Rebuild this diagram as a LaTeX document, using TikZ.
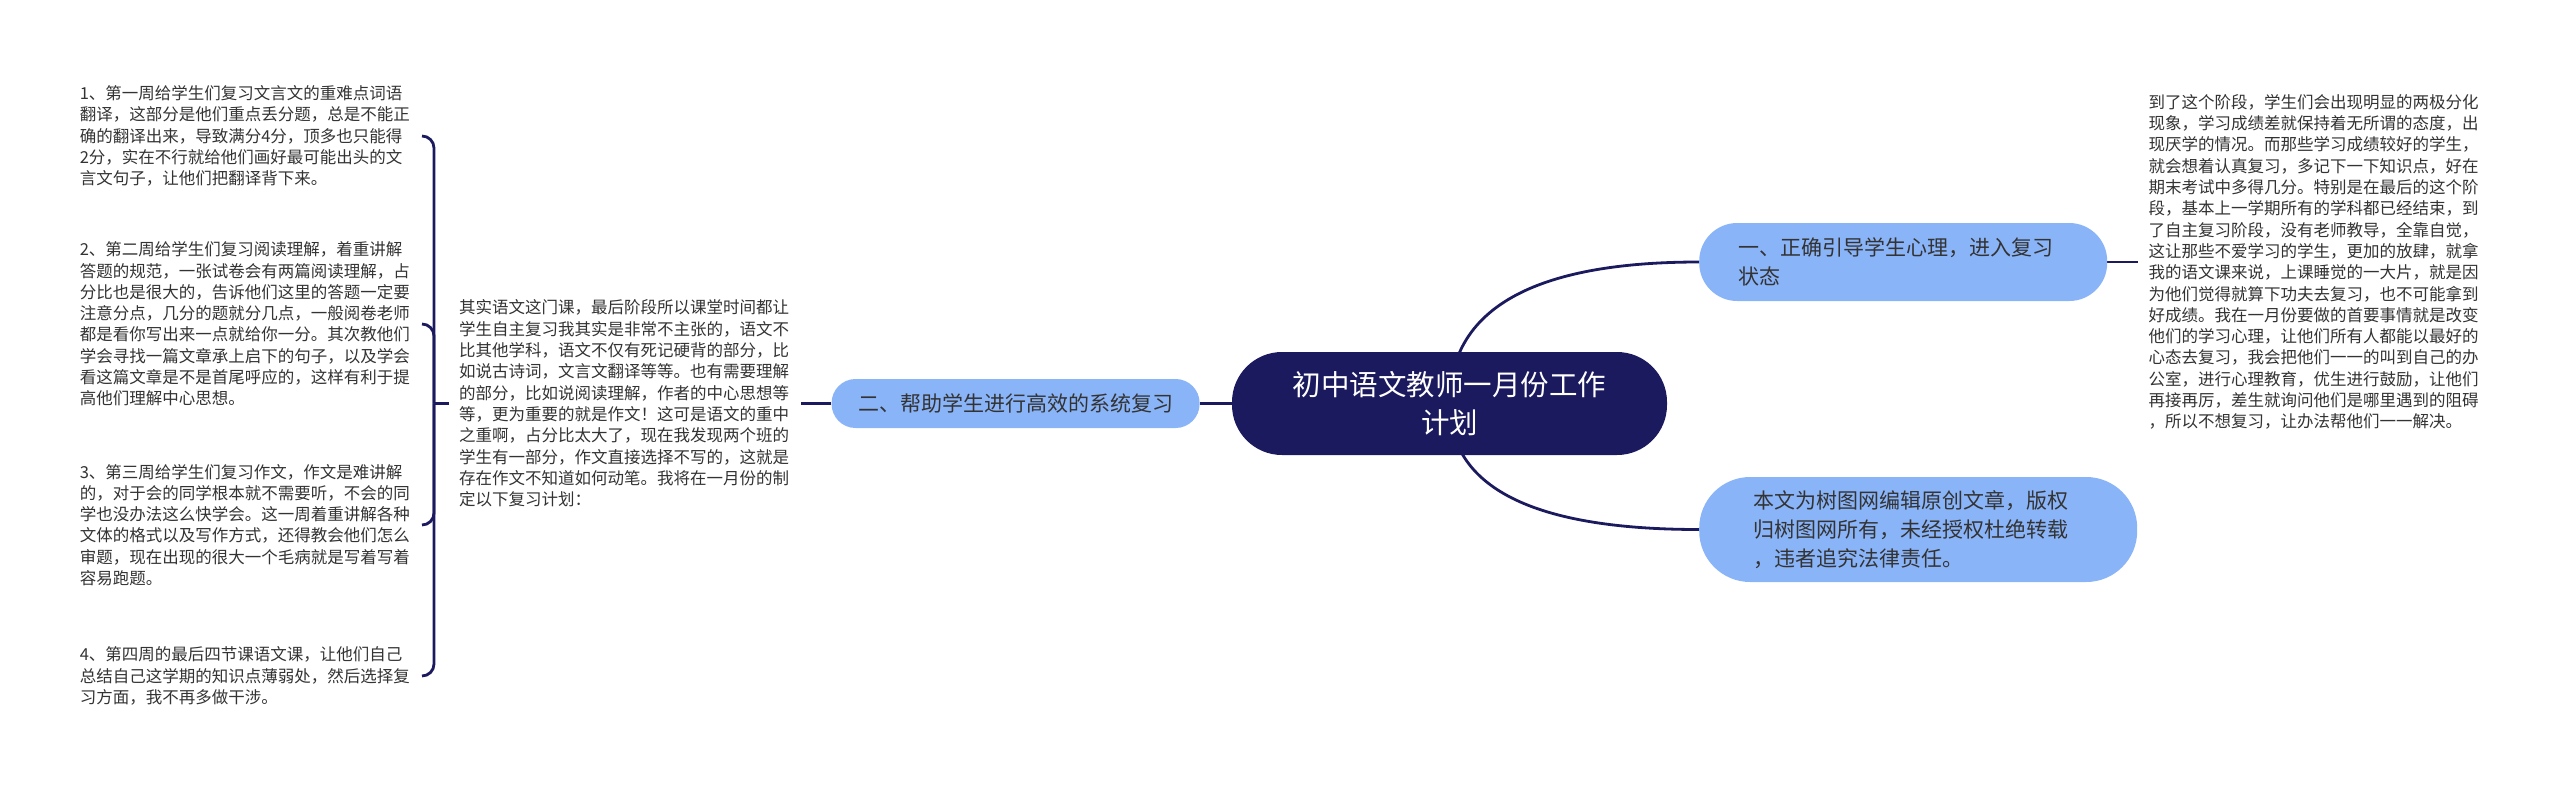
\documentclass[tikz,border=0pt]{standalone}
\usepackage{fontspec}
\setmainfont{Noto Sans CJK SC}
\usepackage{xcolor}
\usetikzlibrary{positioning,backgrounds,calc}
\definecolor{rootnavy}{HTML}{1B1A5E}
\definecolor{branchblue}{HTML}{8AB4F8}
\definecolor{leafgray}{HTML}{333333}

\begin{document}
\begin{tikzpicture}[
  x=1pt, y=-1pt,
  every node/.style={text=leafgray},
  root/.style={
    rectangle,
    fill=rootnavy,
    text=white,
    rounded corners=50pt,
    minimum width=435pt,
    minimum height=103pt,
    align=center,
    font=\fontsize{28.5}{38}\selectfont
  },
  branch/.style={
    rectangle,
    fill=branchblue,
    rounded corners=#1,
    align=left,
    inner ysep=0pt,
    font=\fontsize{21}{29}\selectfont
  },
  leaf/.style={
    align=left,
    text width=332pt,
    inner xsep=10pt,
    inner ysep=0pt,
    font=\fontsize{16.5}{21.3}\selectfont
  },
  link/.style={draw=rootnavy, line width=2.8pt}
]
\useasboundingbox (0,0) rectangle (2560,785);

% Root and branches
\node[root] (root) at (1449.5,403.5) {初中语文教师一月份工作\\计划};
\node[branch=24pt, left=32pt of root, minimum width=368pt, minimum height=49pt,
  inner xsep=26pt] (review) {二、帮助学生进行高效的系统复习};
\node[branch=38pt, anchor=west, text width=330pt, inner xsep=39pt,
  minimum height=78pt] (psych) at (1699,262) {一、正确引导学生心理，进入复习\\状态};
\node[branch=51pt, anchor=west, text width=330pt, inner xsep=54pt,
  minimum height=105pt] (notice) at (1699,529.5)
  {本文为树图网编辑原创文章，版权\\归树图网所有，未经授权杜绝转载\\，违者追究法律责任。};

% Text leaves
\node[leaf, right=31pt of psych] (psychtext) {到了这个阶段，学生们会出现明显的两极分化\\
现象，学习成绩差就保持着无所谓的态度，出\\
现厌学的情况。而那些学习成绩较好的学生，\\
就会想着认真复习，多记下一下知识点，好在\\
期末考试中多得几分。特别是在最后的这个阶\\
段，基本上一学期所有的学科都已经结束，到\\
了自主复习阶段，没有老师教导，全靠自觉，\\
这让那些不爱学习的学生，更加的放肆，就拿\\
我的语文课来说，上课睡觉的一大片，就是因\\
为他们觉得就算下功夫去复习，也不可能拿到\\
好成绩。我在一月份要做的首要事情就是改变\\
他们的学习心理，让他们所有人都能以最好的\\
心态去复习，我会把他们一一的叫到自己的办\\
公室，进行心理教育，优生进行鼓励，让他们\\
再接再厉，差生就询问他们是哪里遇到的阻碍\\
，所以不想复习，让办法帮他们一一解决。};

\node[leaf, left=30pt of review] (intro) {其实语文这门课，最后阶段所以课堂时间都让\\
学生自主复习我其实是非常不主张的，语文不\\
比其他学科，语文不仅有死记硬背的部分，比\\
如说古诗词，文言文翻译等等。也有需要理解\\
的部分，比如说阅读理解，作者的中心思想等\\
等，更为重要的就是作文！这可是语文的重中\\
之重啊，占分比太大了，现在我发现两个班的\\
学生有一部分，作文直接选择不写的，这就是\\
存在作文不知道如何动笔。我将在一月份的制\\
定以下复习计划：};

\node[leaf, anchor=east] (week1) at (422,136) {1、第一周给学生们复习文言文的重难点词语\\
翻译，这部分是他们重点丢分题，总是不能正\\
确的翻译出来，导致满分4分，顶多也只能得\\
2分，实在不行就给他们画好最可能出头的文\\
言文句子，让他们把翻译背下来。};
\node[leaf, anchor=east] (week2) at (422,324) {2、第二周给学生们复习阅读理解，着重讲解\\
答题的规范，一张试卷会有两篇阅读理解，占\\
分比也是很大的，告诉他们这里的答题一定要\\
注意分点，几分的题就分几点，一般阅卷老师\\
都是看你写出来一点就给你一分。其次教他们\\
学会寻找一篇文章承上启下的句子，以及学会\\
看这篇文章是不是首尾呼应的，这样有利于提\\
高他们理解中心思想。};
\node[leaf, anchor=east] (week3) at (422,525) {3、第三周给学生们复习作文，作文是难讲解\\
的，对于会的同学根本就不需要听，不会的同\\
学也没办法这么快学会。这一周着重讲解各种\\
文体的格式以及写作方式，还得教会他们怎么\\
审题，现在出现的很大一个毛病就是写着写着\\
容易跑题。};
\node[leaf, anchor=east] (week4) at (422,676) {4、第四周的最后四节课语文课，让他们自己\\
总结自己这学期的知识点薄弱处，然后选择复\\
习方面，我不再多做干涉。};

\coordinate (fork) at ($(intro.west)+(-15pt,0)$);

% Connections
\begin{scope}[on background layer]
\fill[white] (0,0) rectangle (2560,785);
\draw[link] (root.center) .. controls ($(root.center)!2/3!(root.center |- psych.west)$)
  and ($(psych.west)!2/3!(root.center |- psych.west)$) .. (psych.west);
\draw[link] (root.center) .. controls ($(root.center)!2/3!(root.center |- notice.west)$)
  and ($(notice.west)!2/3!(root.center |- notice.west)$) .. (notice.west);
\draw[link] (root) -- (review);
\draw[link] (review) -- (intro);
\draw[link] (psych) -- (psychtext);
\draw[link] (intro.west) -- (fork);
\foreach \w in {week1,week2,week3,week4}
  \draw[link, rounded corners=12pt] (fork) |- (\w.east);
\end{scope}

\end{tikzpicture}
\end{document}
